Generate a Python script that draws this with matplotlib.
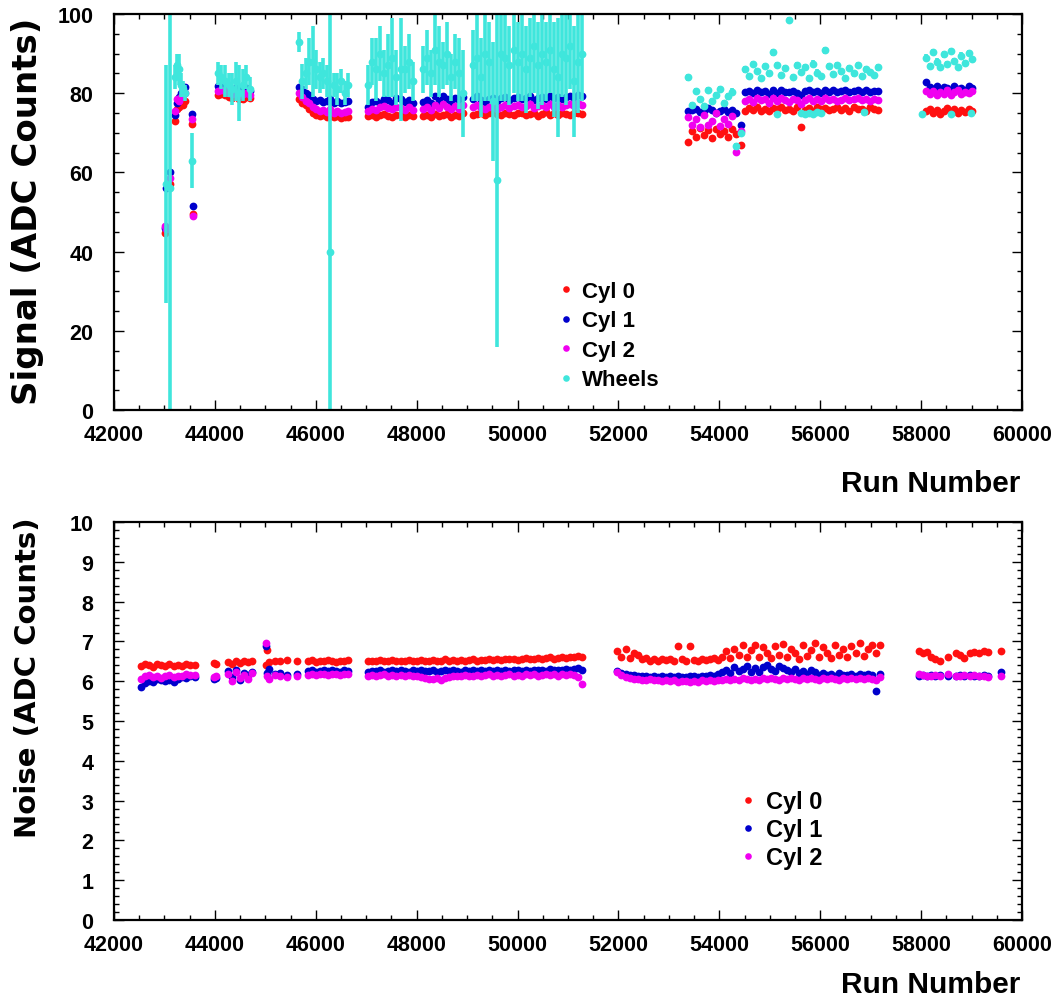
import numpy as np
import matplotlib
matplotlib.use("Agg")
import matplotlib.pyplot as plt
from matplotlib.lines import Line2D
from matplotlib.ticker import MultipleLocator

nan = np.nan

# ---------------- Signal per run ----------------
sig_runs = [
    43010, 43030, 43110, 43210, 43250, 43290, 43330, 43370, 43410, 43540, 43570,
    44060, 44130, 44200, 44270, 44340, 44410, 44480, 44550, 44620, 44690,
    45660, 45730, 45800, 45870, 45940, 46010, 46080, 46150, 46220, 46290, 46360, 46430, 46500, 46570, 46640,
    47040, 47120, 47200, 47280, 47360, 47440, 47520, 47600, 47680, 47760, 47840, 47920,
    48120, 48200, 48280, 48360, 48440, 48520, 48600, 48680, 48760, 48840, 48920,
    49120, 49200, 49280, 49360, 49440, 49520, 49600, 49680, 49760, 49840, 49920, 50000, 50080, 50160,
    50240, 50320, 50400, 50480, 50560, 50640, 50720, 50800, 50880, 50960, 51040, 51120, 51200, 51280,
    53380, 53460, 53540, 53620, 53700, 53780, 53860, 53940, 54020, 54100, 54180, 54260, 54340, 54420,
    54500, 54580, 54660, 54740, 54820, 54900, 54980, 55060, 55140, 55220, 55300, 55380, 55460, 55540,
    55620, 55700, 55780, 55860, 55940, 56020, 56100, 56180, 56260, 56340, 56420, 56500, 56580, 56660,
    56740, 56820, 56900, 56980, 57060, 57140,
    58100, 58170, 58240, 58310, 58380, 58450, 58520, 58590, 58660, 58730, 58800, 58870, 58940, 59010,
]
sig_cyl0 = [
    44.8, 45.2, 57.0, 73.0, 76.0, 76.5, 77.5, 77.0, 78.0, 72.2, 49.5,
    79.5, 79.8, 79.5, 79.0, 78.8, 79.2, 78.5, 78.6, 79.0, 78.7,
    78.5, 77.5, 77.0, 76.0, 75.0, 74.5, 74.2, 74.5, 74.0, 74.3, 74.0, 74.2, 73.8, 74.0, 74.1,
    74.2, 74.6, 74.0, 74.5, 74.8, 74.3, 74.1, 74.6, 74.4, 74.0, 74.5, 74.2,
    74.3, 74.6, 74.0, 74.8, 74.2, 74.5, 74.7, 74.1, 74.6, 74.3, 74.9,
    74.5, 74.8, 75.0, 74.6, 74.9, 75.2, 74.7, 74.4, 75.0, 74.8, 74.6, 75.1, 74.9, 74.5,
    74.7, 75.0, 74.3, 74.8, 75.2, 74.6, 74.9, 74.5, 75.0, 74.7, 74.4, 74.9, 75.1, 74.8,
    67.8, 70.5, 69.0, 71.2, 69.5, 70.8, 68.8, 71.0, 69.8, 70.5, 68.9, 71.0, 69.8, 66.8,
    75.5, 76.2, 75.8, 76.5, 75.6, 76.0, 75.4, 76.3, 75.9, 76.6, 75.7, 76.1, 75.5, 76.4,
    71.4, 75.8, 76.2, 75.6, 76.5, 75.9, 76.3, 75.7, 76.0, 76.6, 75.8, 76.2, 75.5, 76.4,
    75.9, 76.1, 75.6, 76.5, 76.0, 75.8,
    75.5, 76.0, 75.0, 75.8, 74.8, 75.6, 76.2, 75.2, 75.9, 74.9, 75.7, 75.3, 76.0, 75.4,
]
sig_cyl1 = [
    46.0, 56.0, 60.0, 74.5, 77.5, 79.0, 80.0, 80.7, 81.5, 74.7, 51.6,
    81.8, 81.5, 81.8, 81.2, 81.0, 81.4, 80.8, 81.0, 81.2, 80.6,
    81.5, 81.0, 80.0, 79.5, 78.5, 78.0, 78.2, 77.8, 78.0, 78.5, 77.5, 78.0, 77.6, 77.8, 78.0,
    76.5, 77.8, 78.0, 77.5, 78.6, 78.2, 77.6, 78.8, 78.5, 77.9, 78.4, 77.6,
    77.8, 78.4, 77.5, 79.2, 78.0, 79.4, 78.6, 77.9, 78.8, 78.2, 79.0,
    78.6, 79.2, 78.4, 77.8, 78.5, 78.9, 78.0, 78.7, 79.0, 78.3, 78.8, 79.1, 78.5, 78.9,
    79.2, 78.4, 78.8, 79.0, 78.6, 79.3, 78.7, 79.1, 78.5, 79.0, 79.4, 78.8, 79.5, 79.2,
    75.5, 75.8, 76.0, 75.2, 75.5, 76.2, 75.8, 75.0, 75.6, 76.0, 75.3, 75.8, 75.0, 72.0,
    80.2, 80.6, 80.0, 80.8, 80.3, 80.5, 79.8, 80.7, 80.1, 80.9, 80.4, 80.2, 80.6, 80.0,
    79.6, 80.5, 80.8, 80.3, 80.6, 80.1, 80.9, 80.4, 80.7, 80.2, 80.5, 80.8, 80.3, 80.6,
    80.9, 80.4, 80.7, 80.2, 80.6, 80.5,
    82.8, 81.5, 81.0, 81.8, 80.8, 81.6, 81.2, 80.6, 81.9, 81.0, 81.4, 80.9, 81.7, 81.3,
]
sig_cyl2 = [
    46.5, 45.8, 58.5, 75.6, 78.5, 78.0, 79.0, 79.5, 80.0, 73.5, 49.0,
    80.5, 80.8, 80.6, 80.0, 79.8, 80.2, 79.6, 79.8, 80.0, 79.5,
    80.0, 79.0, 78.0, 77.5, 76.5, 76.0, 75.5, 75.8, 75.2, 76.0, 75.0, 75.5, 75.0, 75.3, 75.6,
    75.5, 76.0, 75.8, 76.4, 76.8, 76.2, 75.9, 76.6, 76.3, 75.7, 76.5, 75.8,
    76.0, 76.4, 75.7, 77.0, 76.2, 77.3, 76.6, 75.9, 76.8, 76.1, 77.0,
    76.6, 77.0, 76.3, 75.9, 76.5, 76.8, 76.1, 76.6, 77.0, 76.2, 76.7, 77.1, 76.4, 76.8,
    77.2, 76.3, 76.7, 77.0, 76.5, 77.3, 76.6, 77.0, 76.4, 76.9, 77.3, 76.7, 77.4, 77.1,
    74.0, 72.0, 73.5, 71.5, 74.5, 72.0, 73.0, 75.0, 71.8, 73.5, 72.2, 74.2, 65.2, 70.5,
    78.0, 78.6, 77.8, 78.9, 78.2, 78.5, 77.6, 78.8, 78.1, 78.7, 78.3, 77.9, 78.6, 78.2,
    77.2, 78.4, 78.8, 78.0, 78.5, 78.1, 78.7, 78.3, 78.6, 78.0, 78.4, 78.9, 78.2, 78.5,
    78.8, 78.3, 78.6, 78.0, 78.5, 78.4,
    80.5, 79.8, 80.6, 79.5, 80.2, 79.9, 80.7, 79.6, 80.3, 80.8, 79.7, 80.4, 80.1, 80.6,
]
sig_wheels = [
    nan, 57.0, 56.0, 84.0, 87.0, 86.0, 82.0, 81.0, 80.0, 63.0, nan,
    85.0, 84.0, 83.0, 82.0, 81.0, 83.0, 80.0, 82.0, 84.0, 81.0,
    93.0, 83.0, 85.0, 88.0, 88.0, 86.0, 84.0, 85.0, 83.0, 40.0, 82.0, 81.0, 83.0, 80.0, 82.0,
    82.0, 88.0, 86.0, 90.0, 85.0, 87.0, 89.0, 84.0, 86.0, 86.0, 88.0, 83.0,
    86.0, 89.0, 85.0, 91.0, 88.0, 87.0, 90.0, 84.0, 88.0, 85.0, 80.0,
    87.0, 89.0, 84.0, 90.0, 88.0, 78.0, 58.0, 90.0, 89.0, 87.0, 91.0, 88.0, 90.0, 86.0,
    89.0, 92.0, 87.0, 90.0, 88.0, 91.0, 86.0, 84.0, 90.0, 89.0, 92.0, 83.0, 88.0, 90.0,
    84.0, 77.0, 80.5, 78.5, 76.8, 80.8, 78.0, 79.6, 81.0, 77.4, 79.2, 80.4, 66.7, 70.0,
    86.0, 84.3, 87.4, 85.6, 83.8, 86.9, 85.0, 90.3, 87.2, 84.6, 86.3, 98.5, 84.1, 87.0,
    85.4, 86.6, 83.9, 87.5, 85.2, 84.4, 90.8, 86.8, 84.8, 87.1, 85.5, 83.9, 86.4, 85.0,
    87.2, 84.3, 86.0, 85.3, 84.6, 86.5,
    89.0, 86.8, 90.4, 88.0, 86.6, 89.8, 87.4, 90.6, 88.2, 86.7, 89.5, 87.6, 90.2, 88.6,
]
sig_wheels_err = [
    0.0, 30.0, 70.0, 3.0, 3.0, 4.0, 3.0, 2.0, 2.0, 7.0, 0.0,
    3.0, 3.0, 4.0, 3.0, 4.0, 5.0, 7.0, 4.0, 3.0, 3.0,
    2.5, 4.5, 4.0, 6.0, 9.0, 5.0, 4.0, 4.0, 4.0, 62.0, 3.0, 4.0, 3.0, 3.0, 3.0,
    5.0, 6.0, 8.0, 7.0, 6.0, 8.0, 10.0, 7.0, 13.0, 6.0, 7.0, 5.0,
    6.0, 7.0, 6.0, 9.0, 9.0, 6.0, 8.0, 6.0, 7.0, 9.0, 11.0,
    9.0, 11.0, 10.0, 12.0, 10.0, 15.0, 42.0, 12.0, 11.0, 10.0, 11.0, 10.0, 12.0, 11.0,
    10.0, 12.0, 11.0, 13.0, 10.0, 11.0, 12.0, 15.0, 11.0, 12.0, 11.0, 14.0, 13.0, 12.0,
] + [0.8] * 62

# wheel runs whose signal falls inside the Cyl 0 band
sig_wheels_low_runs = [55140, 55620, 55700, 55780, 55860, 55940, 56020, 56860, 58020, 58600, 58980]
sig_wheels_low = [74.8, 75.0, 74.7, 75.1, 74.8, 75.2, 74.9, 75.2, 74.7, 74.8, 74.9]

# ---------------- Noise per run ----------------
noise_runs = [
    42540, 42620, 42700, 42780, 42860, 42940, 43020, 43100, 43180, 43260, 43340, 43420, 43500, 43600,
    43980, 44020, 44260, 44340, 44420, 44500, 44580, 44660, 44740, 45010, 45040, 45070, 45200, 45300,
    45420, 45620, 45840, 45920, 46000, 46080, 46160, 46240, 46320, 46400, 46480, 46560, 46640,
    47040, 47120, 47200, 47280, 47360, 47440, 47520, 47600, 47680, 47760, 47840, 47920,
    48000, 48080, 48160, 48240, 48320, 48400, 48480, 48560, 48640, 48720, 48800, 48880, 48960,
    49040, 49120, 49200, 49280, 49360, 49440, 49520, 49600, 49680, 49760, 49840, 49920,
    50000, 50080, 50160, 50240, 50320, 50400, 50480, 50560, 50640, 50720, 50800, 50880, 50960,
    51040, 51120, 51200, 51280,
    51980, 52060, 52140, 52220, 52300, 52380, 52460, 52540, 52620, 52700, 52780, 52860, 52940,
    53020, 53100, 53180, 53260, 53340, 53420, 53500, 53580, 53660, 53740, 53820, 53900, 53980,
    54060, 54140, 54220, 54300, 54380, 54460, 54540, 54620, 54700, 54780, 54860, 54940,
    55020, 55100, 55180, 55260, 55340, 55420, 55500, 55580, 55660, 55740, 55820, 55900, 55980,
    56060, 56140, 56220, 56300, 56380, 56460, 56540, 56620, 56700, 56780, 56860, 56940,
    57020, 57100, 57180,
    57960, 58040, 58120, 58200, 58280, 58380, 58540, 58700, 58780, 58860, 58960, 59040, 59140,
    59240, 59320, 59580,
]
noise_cyl0 = [
    6.38, 6.42, 6.40, 6.36, 6.44, 6.40, 6.38, 6.42, 6.37, 6.41, 6.39, 6.43, 6.40, 6.41,
    6.45, 6.42, 6.48, 6.44, 6.50, 6.46, 6.52, 6.47, 6.50, 6.40, 6.78, 6.48, 6.52, 6.50,
    6.53, 6.51, 6.50, 6.53, 6.49, 6.52, 6.50, 6.54, 6.51, 6.49, 6.52, 6.50, 6.53,
    6.50, 6.52, 6.51, 6.53, 6.50, 6.52, 6.54, 6.51, 6.52, 6.50, 6.53, 6.51,
    6.52, 6.54, 6.50, 6.52, 6.53, 6.51, 6.52, 6.55, 6.52, 6.53, 6.51, 6.54, 6.52,
    6.53, 6.55, 6.52, 6.54, 6.53, 6.56, 6.54, 6.55, 6.53, 6.56, 6.55, 6.57,
    6.54, 6.56, 6.58, 6.55, 6.57, 6.59, 6.56, 6.58, 6.60, 6.57, 6.59, 6.61, 6.58,
    6.62, 6.60, 6.63, 6.61,
    6.75, 6.62, 6.80, 6.58, 6.70, 6.65, 6.55, 6.58, 6.52, 6.56, 6.50, 6.55, 6.53,
    6.57, 6.52, 6.88, 6.55, 6.50, 6.88, 6.54, 6.52, 6.56, 6.53, 6.55, 6.58, 6.54,
    6.60, 6.75, 6.58, 6.82, 6.65, 6.90, 6.60, 6.78, 6.92, 6.62, 6.85, 6.70,
    6.58, 6.88, 6.66, 6.94, 6.60, 6.80, 6.72, 6.55, 6.90, 6.64, 6.78, 6.95, 6.62,
    6.85, 6.70, 6.58, 6.92, 6.66, 6.80, 6.60, 6.88, 6.72, 6.95, 6.64, 6.82,
    6.90, 6.70, 6.92,
    6.75, 6.72, 6.74, 6.62, 6.56, 6.52, 6.60, 6.72, 6.66, 6.58, 6.70, 6.74, 6.72,
    6.75, 6.73, 6.76,
]
noise_cyl1 = [
    5.85, 5.95, 6.00, 5.98, 6.05, 6.02, 6.00, 6.04, 5.98, 6.06, 6.10, 6.08, 6.12, 6.10,
    6.05, 6.08, 6.25, 6.10, 6.28, 6.02, 6.20, 6.15, 6.22, 6.88, 6.20, 6.30, 6.18, 6.20,
    6.16, 6.19, 6.25, 6.27, 6.24, 6.26, 6.28, 6.25, 6.27, 6.26, 6.24, 6.28, 6.26,
    6.24, 6.26, 6.25, 6.27, 6.24, 6.26, 6.28, 6.25, 6.27, 6.26, 6.24, 6.27,
    6.25, 6.28, 6.26, 6.25, 6.27, 6.24, 6.26, 6.28, 6.25, 6.27, 6.26, 6.24, 6.27,
    6.25, 6.28, 6.26, 6.27, 6.25, 6.28, 6.26, 6.27, 6.25, 6.29, 6.26, 6.28,
    6.27, 6.25, 6.28, 6.26, 6.29, 6.27, 6.28, 6.26, 6.30, 6.27, 6.29, 6.28, 6.31,
    6.28, 6.30, 6.32, 6.29,
    6.25, 6.20, 6.18, 6.15, 6.16, 6.14, 6.12, 6.13, 6.11, 6.12, 6.10, 6.12, 6.11,
    6.13, 6.10, 6.12, 6.11, 6.10, 6.13, 6.12, 6.10, 6.14, 6.12, 6.15, 6.13, 6.18,
    6.22, 6.28, 6.20, 6.35, 6.25, 6.30, 6.38, 6.24, 6.32, 6.22, 6.36, 6.40,
    6.30, 6.26, 6.38, 6.34, 6.28, 6.22, 6.30, 6.20, 6.26, 6.18, 6.28, 6.22, 6.15,
    6.20, 6.16, 6.18, 6.14, 6.20, 6.16, 6.15, 6.18, 6.14, 6.17, 6.15, 6.18,
    6.16, 5.76, 6.18,
    6.14, 6.16, 6.12, 6.15, 6.13, 6.16, 6.14, 6.12, 6.15, 6.13, 6.16, 6.14, 6.12,
    6.15, 6.13, 6.24,
]
noise_cyl2 = [
    6.05, 6.12, 6.15, 6.10, 6.14, 6.08, 6.12, 6.16, 6.10, 6.14, 6.12, 6.18, 6.15, 6.16,
    6.10, 6.12, 6.18, 6.00, 6.22, 6.08, 6.15, 6.05, 6.20, 6.96, 6.12, 6.06, 6.15, 6.12,
    6.10, 6.14, 6.16, 6.18, 6.15, 6.17, 6.19, 6.16, 6.18, 6.17, 6.15, 6.19, 6.17,
    6.14, 6.16, 6.13, 6.15, 6.17, 6.14, 6.16, 6.12, 6.15, 6.13, 6.16, 6.14,
    6.12, 6.10, 6.08, 6.06, 6.05, 6.07, 6.04, 6.08, 6.10, 6.12, 6.14, 6.13, 6.15,
    6.12, 6.14, 6.16, 6.13, 6.15, 6.17, 6.14, 6.16, 6.13, 6.15, 6.18, 6.14,
    6.16, 6.13, 6.17, 6.15, 6.18, 6.14, 6.16, 6.19, 6.15, 6.17, 6.14, 6.18, 6.16,
    6.19, 6.15, 6.10, 5.93,
    6.22, 6.15, 6.10, 6.08, 6.06, 6.05, 6.04, 6.03, 6.05, 6.02, 6.04, 6.01, 6.03,
    6.00, 6.02, 5.99, 6.01, 6.00, 5.98, 6.01, 5.99, 6.02, 6.00, 6.03, 6.01, 6.04,
    6.02, 6.05, 6.03, 6.06, 6.04, 6.07, 6.05, 6.03, 6.06, 6.04, 6.07, 6.05,
    6.08, 6.06, 6.04, 6.07, 6.05, 6.08, 6.06, 6.04, 6.07, 6.05, 6.08, 6.06, 6.04,
    6.07, 6.05, 6.08, 6.06, 6.04, 6.07, 6.05, 6.08, 6.06, 6.09, 6.05, 6.07,
    6.06, 6.04, 6.10,
    6.18, 6.16, 6.14, 6.12, 6.15, 6.13, 6.17, 6.14, 6.12, 6.16, 6.13, 6.15, 6.14,
    6.12, 6.11, 6.12,
]

labels_top = ["Cyl 0", "Cyl 1", "Cyl 2", "Wheels"]
labels_bottom = ["Cyl 0", "Cyl 1", "Cyl 2"]

RED = "#ff1010"
BLUE = "#0000cc"
MAGENTA = "#f000f0"
CYAN = "#3fe6dc"
MS = 5.6

plt.rcParams["font.family"] = ["Liberation Sans", "DejaVu Sans"]
plt.rcParams["font.weight"] = "bold"

W, H = 1061, 1004
fig = plt.figure(figsize=(W / 100, H / 100), dpi=100)


def px_axes(left, top, right, bottom):
    return fig.add_axes([left / W, 1 - bottom / H, (right - left) / W, (bottom - top) / H])


def style_axes(ax, ymax, ymajor, yminor):
    ax.set_xlim(42000, 60000)
    ax.set_ylim(0, ymax)
    ax.xaxis.set_major_locator(MultipleLocator(2000))
    ax.xaxis.set_minor_locator(MultipleLocator(500))
    ax.yaxis.set_major_locator(MultipleLocator(ymajor))
    ax.yaxis.set_minor_locator(MultipleLocator(yminor))
    ax.tick_params(which="both", direction="in", top=True, right=True, width=1.0, colors="black")
    ax.tick_params(which="major", length=7.5)
    ax.tick_params(which="minor", length=3.8)
    ax.tick_params(axis="x", labelsize=15.5, pad=10)
    ax.tick_params(axis="y", labelsize=15.5, pad=15)
    for lab in ax.get_xticklabels() + ax.get_yticklabels():
        lab.set_fontweight("bold")
    for sp in ax.spines.values():
        sp.set_linewidth(1.6)


def dot(color):
    return Line2D([], [], ls="none", marker="o", ms=MS, mew=0, color=color)


# ---- top panel: signal ----
ax1 = px_axes(114, 15, 1022, 411)
ax1.plot(sig_runs, sig_cyl0, "o", ms=MS, mew=0, color=RED)
ax1.plot(sig_runs, sig_cyl1, "o", ms=MS, mew=0, color=BLUE)
ax1.plot(sig_runs, sig_cyl2, "o", ms=MS, mew=0, color=MAGENTA)
ax1.errorbar(sig_runs, sig_wheels, yerr=sig_wheels_err, fmt="o", ms=MS, mew=0,
             color=CYAN, ecolor=CYAN, elinewidth=2.6, capsize=0)
ax1.plot(sig_wheels_low_runs, sig_wheels_low, "o", ms=MS, mew=0, color=CYAN)
style_axes(ax1, 100, 20, 5)
ax1.legend(handles=[dot(RED), dot(BLUE), dot(MAGENTA), dot(CYAN)], labels=labels_top,
           loc="upper left", bbox_to_anchor=(559 / W, 1 - 282 / H),
           bbox_transform=fig.transFigure, frameon=False,
           handlelength=0.6, handletextpad=0.45, labelspacing=0.38,
           borderpad=0, borderaxespad=0, markerscale=0.85,
           prop={"weight": "bold", "size": 16})

# ---- bottom panel: noise ----
ax2 = px_axes(114, 523, 1022, 921)
ax2.plot(noise_runs, noise_cyl0, "o", ms=MS, mew=0, color=RED)
ax2.plot(noise_runs, noise_cyl1, "o", ms=MS, mew=0, color=BLUE)
ax2.plot(noise_runs, noise_cyl2, "o", ms=MS, mew=0, color=MAGENTA)
style_axes(ax2, 10, 1, 0.2)
ax2.legend(handles=[dot(RED), dot(BLUE), dot(MAGENTA)], labels=labels_bottom,
           loc="upper left", bbox_to_anchor=(741 / W, 1 - 791 / H),
           bbox_transform=fig.transFigure, frameon=False,
           handlelength=0.6, handletextpad=0.45, labelspacing=0.22,
           borderpad=0, borderaxespad=0, markerscale=0.85,
           prop={"weight": "bold", "size": 17})

# ---- axis titles ----
fig.text(1020 / W, 1 - 484 / H, "Run Number", ha="right", va="center",
         fontsize=21.5, fontweight="bold")
fig.text(1020 / W, 1 - 985 / H, "Run Number", ha="right", va="center",
         fontsize=21.5, fontweight="bold")
fig.text(28 / W, 1 - 18 / H, "Signal (ADC Counts)", rotation=90, ha="center", va="top",
         fontsize=24.5, fontweight="bold", family="DejaVu Sans")
fig.text(28 / W, 1 - 517 / H, "Noise (ADC Counts)", rotation=90, ha="center", va="top",
         fontsize=21, fontweight="bold", family="DejaVu Sans")

fig.savefig("out.png", dpi=100, facecolor="white")
